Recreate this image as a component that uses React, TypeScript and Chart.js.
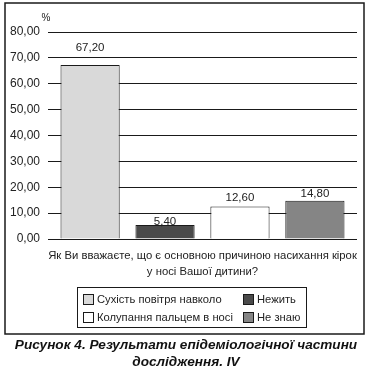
import React, { useEffect, useRef } from "react";
import { Chart, registerables } from "chart.js";

Chart.register(...registerables);

const categories: string[][] = [["Як Ви вважаєте, що є основною причиною насихання кірок", "у носі Вашої дитини?"]];
const seriesNames = ["Сухість повітря навколо", "Нежить", "Колупання пальцем в носі", "Не знаю"];
const seriesValues = [67.2, 5.4, 12.6, 14.8];
const seriesColors = ["#d9d9d9", "#4a4a4a", "#ffffff", "#858585"];
const yTicks = [0, 10, 20, 30, 40, 50, 60, 70, 80];
const captionLines = ["Рисунок 4. Результати епідеміологічної частини", "дослідження. IV"];
const unitLabel = "%";

// style: gap (px) between bar top and its value label baseline
const labelGaps = [14, 0, 5, 4];

const FONT = '"Liberation Sans", Arial, sans-serif';
const fmt = (v: number) => v.toFixed(2).replace(".", ",");

const decorPlugin = {
  id: "decor",
  afterDraw(chart: any) {
    const ctx = chart.ctx as CanvasRenderingContext2D;
    ctx.save();
    // outer frame
    ctx.strokeStyle = "#1a1a1a";
    ctx.lineWidth = 1.5;
    ctx.strokeRect(5, 3, 359, 331);

    // unit label
    ctx.fillStyle = "#222";
    ctx.font = `10px ${FONT}`;
    ctx.textAlign = "center";
    ctx.textBaseline = "alphabetic";
    ctx.fillText(unitLabel, 46, 21);

    // data labels
    ctx.font = `11.5px ${FONT}`;
    ctx.fillStyle = "#222";
    chart.data.datasets.forEach((ds: any, i: number) => {
      const meta = chart.getDatasetMeta(i);
      meta.data.forEach((bar: any, j: number) => {
        const v = ds.data[j];
        ctx.fillText(fmt(v), bar.x, bar.y - labelGaps[i]);
      });
    });

    // legend
    const lx = 77, ly = 287, lw = 229, lh = 40;
    ctx.strokeStyle = "#1a1a1a";
    ctx.lineWidth = 1;
    ctx.strokeRect(lx + 0.5, ly + 0.5, lw, lh);
    const colX = [83, 243];
    const rowY = [299, 317];
    ctx.textAlign = "left";
    ctx.textBaseline = "middle";
    ctx.font = `11.2px ${FONT}`;
    chart.data.datasets.forEach((ds: any, i: number) => {
      const cx = colX[i % 2];
      const cy = rowY[Math.floor(i / 2)];
      ctx.fillStyle = ds.backgroundColor;
      ctx.fillRect(cx, cy - 5, 11, 11);
      ctx.strokeStyle = "#1a1a1a";
      ctx.strokeRect(cx + 0.5, cy - 4.5, 10, 10);
      ctx.fillStyle = "#222";
      ctx.fillText(ds.label, cx + 14, cy + 1);
    });

    // caption
    ctx.fillStyle = "#111";
    ctx.font = `italic bold 13.6px ${FONT}`;
    ctx.textAlign = "center";
    ctx.textBaseline = "alphabetic";
    ctx.fillText(captionLines[0], 186, 349);
    ctx.fillText(captionLines[1], 186, 366);
    ctx.restore();
  },
};

export default function App() {
  const ref = useRef<HTMLCanvasElement>(null);
  useEffect(() => {
    if (!ref.current) return;
    const chart = new Chart(ref.current, {
      type: "bar",
      data: {
        labels: categories as any,
        datasets: seriesNames.map((name, i) => ({
          label: name,
          data: [seriesValues[i]],
          backgroundColor: seriesColors[i],
          borderColor: "#1a1a1a",
          borderWidth: 1,
          categoryPercentage: 0.97,
          barPercentage: 0.79,
        })),
      },
      options: {
        responsive: false,
        animation: false,
        layout: { padding: { left: 0, right: 14, top: 32, bottom: 94 } },
        plugins: { legend: { display: false }, tooltip: { enabled: false } },
        scales: {
          x: {
            grid: { display: false },
            border: { display: false },
            ticks: {
              color: "#222",
              font: { family: FONT, size: 11.3, lineHeight: 1.4 },
              padding: 1,
              maxRotation: 0,
              autoSkip: false,
            },
            afterFit: (s: any) => {
              s.height = 40;
              s.paddingLeft = 0;
              s.paddingRight = 0;
            },
          },
          y: {
            min: 0,
            max: 80,
            afterBuildTicks: (s: any) => { s.ticks = yTicks.map((v) => ({ value: v })); },
            grid: { color: "#1a1a1a", drawTicks: false, lineWidth: 1 },
            border: { display: false },
            ticks: {
              color: "#222",
              font: { family: FONT, size: 12 },
              padding: 8,
              callback: (v: any) => fmt(Number(v)),
            },
            afterFit: (s: any) => { s.width = 48; },
          },
        },
      },
      plugins: [decorPlugin],
    });
    return () => chart.destroy();
  }, []);
  return (
    <div style={{ position: "absolute", left: 0, top: 0, width: 371, height: 373, background: "#fff" }}>
      <canvas ref={ref} width={371} height={373} />
    </div>
  );
}
